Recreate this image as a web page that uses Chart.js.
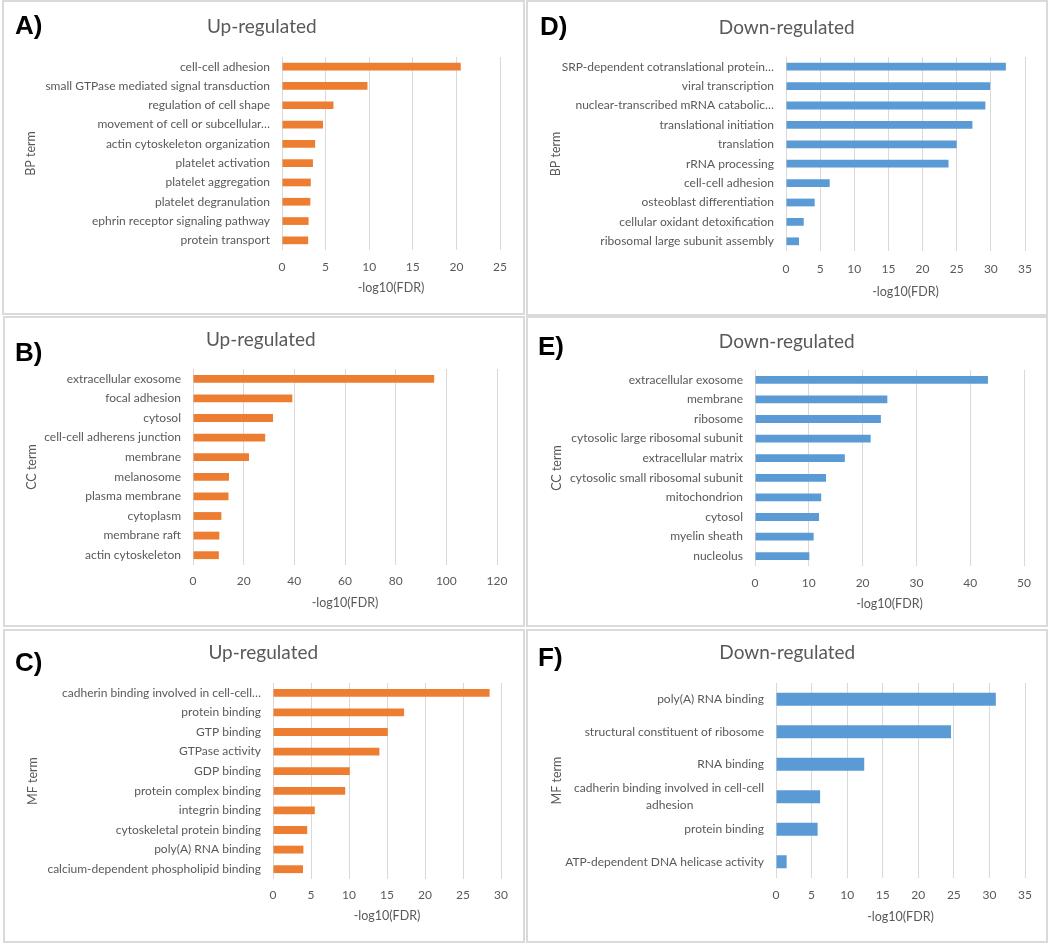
<!DOCTYPE html>
<html>
<head>
<meta charset="utf-8">
<script src="https://cdn.jsdelivr.net/npm/chart.js@4.4.0/dist/chart.umd.min.js"></script>
<style>
  html, body { margin: 0; padding: 0; background: #fff; }
  #page { position: relative; width: 1050px; height: 944px; overflow: hidden; }
  .box { position: absolute; box-sizing: border-box; border: 2px solid #dadada; }
  canvas { position: absolute; }
  .tag { position: absolute; font: bold 26px "Liberation Sans", Arial, sans-serif; line-height: 26px; color: #000; }
</style>
</head>
<body>
<div id="page"></div>
<script>
// A) BP term, up-regulated
const bpUpTerms = ['cell-cell adhesion', 'small GTPase mediated signal transduction', 'regulation of cell shape',
  'movement of cell or subcellular…', 'actin cytoskeleton organization', 'platelet activation',
  'platelet aggregation', 'platelet degranulation', 'ephrin receptor signaling pathway', 'protein transport'];
const bpUpValues = [20.5, 9.8, 5.9, 4.7, 3.8, 3.55, 3.3, 3.25, 3.05, 3.0];
const bpUpTicks = [0, 5, 10, 15, 20, 25];

// D) BP term, down-regulated
const bpDownTerms = ['SRP-dependent cotranslational protein…', 'viral transcription', 'nuclear-transcribed mRNA catabolic…',
  'translational initiation', 'translation', 'rRNA processing', 'cell-cell adhesion',
  'osteoblast differentiation', 'cellular oxidant detoxification', 'ribosomal large subunit assembly'];
const bpDownValues = [32.2, 29.9, 29.2, 27.3, 25.0, 23.8, 6.4, 4.2, 2.6, 1.9];
const bpDownTicks = [0, 5, 10, 15, 20, 25, 30, 35];

// B) CC term, up-regulated
const ccUpTerms = ['extracellular exosome', 'focal adhesion', 'cytosol', 'cell-cell adherens junction', 'membrane',
  'melanosome', 'plasma membrane', 'cytoplasm', 'membrane raft', 'actin cytoskeleton'];
const ccUpValues = [95.2, 39.2, 31.6, 28.5, 22.1, 14.2, 14.0, 11.2, 10.4, 10.2];
const ccUpTicks = [0, 20, 40, 60, 80, 100, 120];

// E) CC term, down-regulated
const ccDownTerms = ['extracellular exosome', 'membrane', 'ribosome', 'cytosolic large ribosomal subunit',
  'extracellular matrix', 'cytosolic small ribosomal subunit', 'mitochondrion', 'cytosol', 'myelin sheath', 'nucleolus'];
const ccDownValues = [43.3, 24.6, 23.4, 21.5, 16.7, 13.2, 12.3, 11.9, 10.9, 10.1];
const ccDownTicks = [0, 10, 20, 30, 40, 50];

// C) MF term, up-regulated
const mfUpTerms = ['cadherin binding involved in cell-cell…', 'protein binding', 'GTP binding', 'GTPase activity',
  'GDP binding', 'protein complex binding', 'integrin binding', 'cytoskeletal protein binding',
  'poly(A) RNA binding', 'calcium-dependent phospholipid binding'];
const mfUpValues = [28.5, 17.25, 15.1, 14.0, 10.1, 9.5, 5.5, 4.5, 4.0, 3.95];
const mfUpTicks = [0, 5, 10, 15, 20, 25, 30];

// F) MF term, down-regulated
const mfDownTerms = ['poly(A) RNA binding', 'structural constituent of ribosome', 'RNA binding',
  ['cadherin binding involved in cell-cell', 'adhesion'], 'protein binding', 'ATP-dependent DNA helicase activity'];
const mfDownValues = [30.9, 24.6, 12.4, 6.2, 5.85, 1.5];
const mfDownTicks = [0, 5, 10, 15, 20, 25, 30, 35];

const ORANGE = '#ED7D31';
const BLUE = '#5B9BD5';
const GRAY = '#595959';
const FONT = 'Lato, "Open Sans", sans-serif';
const LABEL_SIZE = 12;
const AXIS_SIZE = 12.5;
const TITLE_SIZE = 19;

// 複数行ラベルの短い行を空白で伸ばして、右揃えでも中央揃えに見せる
function centerLines(label) {
  if (!Array.isArray(label)) return label;
  const ctx = document.createElement('canvas').getContext('2d');
  ctx.font = LABEL_SIZE + 'px ' + FONT;
  const widest = Math.max(...label.map(l => ctx.measureText(l).width));
  const space = ctx.measureText(' ').width;
  return label.map(l => {
    const n = Math.round((widest - ctx.measureText(l).width) / 2 / space);
    return l + ' '.repeat(Math.max(0, n));
  });
}

function makePanel(p) {
  const page = document.getElementById('page');

  const canvas = document.createElement('canvas');
  canvas.width = p.w;
  canvas.height = p.h;
  canvas.style.left = p.x + 'px';
  canvas.style.top = p.y + 'px';
  page.appendChild(canvas);

  const box = document.createElement('div');
  box.className = 'box';
  box.style.left = p.x + 'px';
  box.style.top = p.y + 'px';
  box.style.width = p.w + 'px';
  box.style.height = p.h + 'px';
  page.appendChild(box);

  const tag = document.createElement('div');
  tag.className = 'tag';
  tag.textContent = p.tag;
  tag.style.left = p.tagX + 'px';
  tag.style.top = (p.tagY - 3) + 'px';
  page.appendChild(tag);

  const titleLH = TITLE_SIZE * 1.2;
  const axisLH = AXIS_SIZE * 1.2;
  const labelLH = LABEL_SIZE * 1.2;
  const padLeft = p.yTitleX - axisLH / 2;

  new Chart(canvas, {
    type: 'bar',
    data: {
      labels: p.terms.map(centerLines),
      datasets: [{
        data: p.values,
        backgroundColor: p.color,
        barPercentage: 0.4,
        categoryPercentage: 1
      }]
    },
    options: {
      indexAxis: 'y',
      responsive: false,
      animation: false,
      layout: {
        padding: { left: padLeft, right: p.w - p.right, top: 0, bottom: p.h - (p.xTitleY + axisLH / 2) }
      },
      plugins: {
        legend: { display: false },
        tooltip: { enabled: false },
        title: {
          display: true,
          text: p.title,
          color: GRAY,
          font: { family: FONT, size: TITLE_SIZE, weight: 'normal' },
          padding: { top: p.titleY - titleLH / 2, bottom: p.top - p.titleY - titleLH / 2 }
        }
      },
      scales: {
        x: {
          min: 0,
          max: p.ticks[p.ticks.length - 1],
          ticks: {
            stepSize: p.ticks[1] - p.ticks[0],
            color: GRAY,
            font: { family: FONT, size: LABEL_SIZE },
            padding: p.tickY - p.bottom - labelLH / 2
          },
          grid: { color: '#d9d9d9', drawTicks: false },
          border: { display: false },
          title: { display: true, text: '-log10(FDR)', color: GRAY, font: { family: FONT, size: AXIS_SIZE }, padding: 0 },
          afterFit: s => { s.height = p.xTitleY + axisLH / 2 - p.bottom; }
        },
        y: {
          ticks: {
            color: GRAY,
            autoSkip: false,
            font: { family: FONT, size: LABEL_SIZE, lineHeight: p.labelLineHeight || 1.2 },
            padding: 12
          },
          grid: { display: false, drawTicks: false },
          border: { display: false },
          title: { display: true, text: p.yTitle, color: GRAY, font: { family: FONT, size: AXIS_SIZE }, padding: 0 },
          afterFit: s => { s.width = p.left - padLeft; }
        }
      }
    }
  });
}

document.addEventListener('DOMContentLoaded', () => {
  makePanel({ tag: 'A)', title: 'Up-regulated', yTitle: 'BP term', terms: bpUpTerms, values: bpUpValues, ticks: bpUpTicks, color: ORANGE,
    x: 2, y: 0, w: 523, h: 315, left: 280, right: 498, top: 57, bottom: 250,
    titleY: 27, tickY: 267, xTitleY: 288, yTitleX: 29, tagX: 15, tagY: 15 });
  makePanel({ tag: 'D)', title: 'Down-regulated', yTitle: 'BP term', terms: bpDownTerms, values: bpDownValues, ticks: bpDownTicks, color: BLUE,
    x: 526, y: 0, w: 522, h: 316, left: 260, right: 499, top: 57, bottom: 251,
    titleY: 28, tickY: 269, xTitleY: 292, yTitleX: 30, tagX: 540, tagY: 16 });
  makePanel({ tag: 'B)', title: 'Up-regulated', yTitle: 'CC term', terms: ccUpTerms, values: ccUpValues, ticks: ccUpTicks, color: ORANGE,
    x: 3, y: 316, w: 522, h: 311, left: 190, right: 494, top: 53, bottom: 249,
    titleY: 24, tickY: 265, xTitleY: 287, yTitleX: 29, tagX: 15, tagY: 342 });
  makePanel({ tag: 'E)', title: 'Down-regulated', yTitle: 'CC term', terms: ccDownTerms, values: ccDownValues, ticks: ccDownTicks, color: BLUE,
    x: 526, y: 316, w: 522, h: 311, left: 229, right: 498, top: 54, bottom: 250,
    titleY: 26, tickY: 267, xTitleY: 288, yTitleX: 31, tagX: 538, tagY: 336 });
  makePanel({ tag: 'C)', title: 'Up-regulated', yTitle: 'MF term', terms: mfUpTerms, values: mfUpValues, ticks: mfUpTicks, color: ORANGE,
    x: 3, y: 629, w: 522, h: 314, left: 270, right: 498, top: 54, bottom: 250,
    titleY: 24, tickY: 266, xTitleY: 287, yTitleX: 30, tagX: 15, tagY: 652 });
  makePanel({ tag: 'F)', title: 'Down-regulated', yTitle: 'MF term', terms: mfDownTerms, values: mfDownValues, ticks: mfDownTicks, color: BLUE,
    x: 526, y: 629, w: 522, h: 314, left: 250, right: 499, top: 54, bottom: 249,
    titleY: 24, tickY: 266, xTitleY: 288, yTitleX: 31, tagX: 538, tagY: 647, labelLineHeight: 1.4 });
});
</script>
</body>
</html>
